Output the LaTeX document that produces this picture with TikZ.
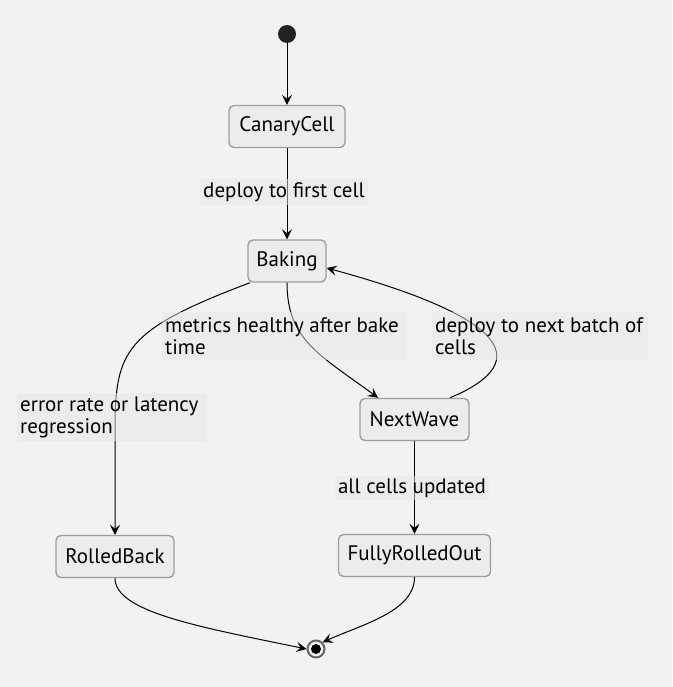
\documentclass[tikz,border=0pt]{standalone}
\usepackage{fontspec}
\setmainfont{PT Sans}
\usetikzlibrary{arrows.meta}
\definecolor{bgc}{HTML}{F2F2F2}
\definecolor{boxfill}{HTML}{ECECEC}
\definecolor{boxdraw}{HTML}{9E9E9E}
\definecolor{lblfill}{HTML}{E8E8E8}
\definecolor{startc}{HTML}{222222}
\tikzset{
  statebox/.style={draw=boxdraw, fill=boxfill, rounded corners=5pt, line width=1.4pt,
    minimum height=42pt, inner sep=0pt, font=\fontsize{21}{22}\selectfont},
  edge/.style={draw=black, line width=1pt, -{Stealth[length=10pt,width=10pt,inset=4pt]}},
  lbl/.style={fill=lblfill, fill opacity=0.5, text opacity=1, inner sep=3pt,
    font=\fontsize{21}{22}\selectfont, align=left},
  lblbox/.style={fill=lblfill, fill opacity=0.5, inner sep=0pt, anchor=north west},
  lbltext/.style={inner sep=0pt, anchor=west, align=left, font=\fontsize{21}{22}\selectfont},
}
\begin{document}
\begin{tikzpicture}[x=1pt,y=-1pt]
\fill[bgc] (0,0) rectangle (672,687);
\useasboundingbox (0,0) rectangle (672,687);

\node[circle, fill=startc, minimum size=18pt, inner sep=0pt] (start) at (287,34) {};
\node[statebox, minimum width=116pt] (canary) at (287,126.5) {CanaryCell};
\node[statebox, minimum width=78pt] (baking) at (287,261) {Baking};
\node[statebox, minimum width=109pt] (next) at (414.5,419.5) {NextWave};
\node[statebox, minimum width=118pt] (rolled) at (115,556.5) {RolledBack};
\node[statebox, minimum width=152pt] (fully) at (414.5,555.5) {FullyRolledOut};
\node[circle, draw=gray!80!black, line width=2pt, fill=bgc, minimum size=17pt, inner sep=0pt] (end) at (316,649) {};
\fill[black] (end.center) circle (5pt);

\draw[edge] (start) -- (canary);
\draw[edge] (canary) -- (baking);
\draw[edge] (baking.south) .. controls (287,340) and (320,355) .. (next.north west -| 378,399);
\draw[edge] (next.north east -| 450,399) .. controls (540,360) and (500,315) .. (baking.east |- 330,268);
\draw[edge] (baking.south west -| 250,280) .. controls (125,330) and (115,350) .. (115,430) -- (rolled.north);
\draw[edge] (next) -- (fully);
\draw[edge] (rolled.south) .. controls (115,612) and (200,627) .. (end.west);
\draw[edge] (fully.south) .. controls (414.5,612) and (360,625) .. (end.north east);

\node[lbl, anchor=center] (l1) at (284,192) {deploy to first cell};
\node[lblbox, minimum width=244pt, minimum height=48pt] (b2) at (162,312) {};
\node[lbltext] (l2) at ([xshift=3pt]b2.west) {metrics healthy after bake\\time};
\node[lblbox, minimum width=216pt, minimum height=48pt] (b3) at (432,312) {};
\node[lbltext] (l3) at ([xshift=3pt]b3.west) {deploy to next batch of\\cells};
\node[lblbox, minimum width=190pt, minimum height=48pt] (b4) at (17,393) {};
\node[lbltext] (l4) at ([xshift=3pt]b4.west) {error rate or latency\\regression};
\node[lbl, anchor=center] (l5) at (412,488) {all cells updated};
\end{tikzpicture}
\end{document}
